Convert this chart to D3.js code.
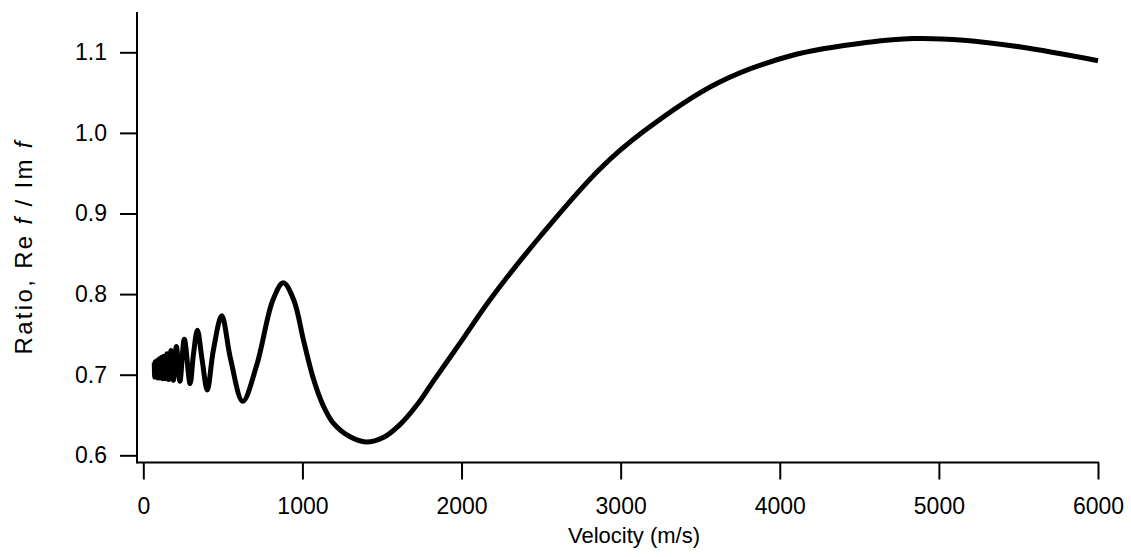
<!DOCTYPE html>
<html>
<head>
<meta charset="utf-8">
<script src="https://cdn.jsdelivr.net/npm/d3@7"></script>
<style>
  html, body { margin: 0; padding: 0; background: #fff; }
  svg text { font-family: "Liberation Sans", Arial, Helvetica, sans-serif; fill: #000; }
</style>
</head>
<body>
<svg id="chart" width="1131" height="557"></svg>
<script>
// ---- data ----
const velocity = [69, 71.4, 74, 76.8, 79.8, 83.1, 86.6, 90.4, 94.6, 99.2, 104, 109.8, 116, 122.7, 130,
  139, 149, 160.5, 174, 189, 208, 230, 258, 294, 315, 340, 370, 402, 440, 493, 548, 625, 713, 815,
  880, 945, 1010, 1069, 1130, 1194, 1300, 1400, 1508, 1613, 1718, 1823, 2000, 2179, 2500, 2868, 3145,
  3610, 4075, 4560, 4840, 5155, 5515, 6000];
const ratio = [0.715, 0.697, 0.716, 0.697, 0.7165, 0.697, 0.7175, 0.696, 0.7185, 0.696, 0.720, 0.696,
  0.7215, 0.695, 0.723, 0.695, 0.726, 0.694, 0.730, 0.693, 0.735, 0.692, 0.744, 0.689, 0.725, 0.755,
  0.718, 0.681, 0.730, 0.773, 0.720, 0.667, 0.712, 0.793, 0.814, 0.793, 0.740, 0.695, 0.662, 0.640,
  0.623, 0.6165, 0.622, 0.638, 0.662, 0.692, 0.742, 0.793, 0.873, 0.955, 1.002, 1.062, 1.096, 1.1125,
  1.117, 1.115, 1.1065, 1.0896];
const xTicks = [0, 1000, 2000, 3000, 4000, 5000, 6000];
const yTicks = [0.6, 0.7, 0.8, 0.9, 1.0, 1.1];
const xTitle = "Velocity (m/s)";

// ---- layout ----
const svg = d3.select("#chart");
const x = d3.scaleLinear().domain([0, 6000]).range([143.3, 1098]);
const y = d3.scaleLinear().domain([0.6, 1.1]).range([455.3, 52.3]);
const axisX = 137;      // y-axis line position
const axisY = 462.5;    // x-axis line position
const yTop = 12;
const tickFont = 23;

// axis lines
svg.append("line").attr("x1", axisX).attr("x2", axisX).attr("y1", yTop).attr("y2", axisY + 1)
  .attr("stroke", "#000").attr("stroke-width", 2);
svg.append("line").attr("x1", axisX).attr("x2", x(6000) + 1).attr("y1", axisY).attr("y2", axisY)
  .attr("stroke", "#000").attr("stroke-width", 2);

// x axis
const gx = svg.append("g").attr("transform", `translate(0,${axisY})`)
  .call(d3.axisBottom(x).tickValues(xTicks).tickFormat(d3.format("d")).tickSize(17).tickPadding(18));
gx.select(".domain").remove();
gx.selectAll(".tick line").attr("stroke", "#000").attr("stroke-width", 2);
gx.selectAll(".tick text").attr("font-size", tickFont).attr("font-family", null);

// y axis
const gy = svg.append("g").attr("transform", `translate(${axisX},0)`)
  .call(d3.axisLeft(y).tickValues(yTicks).tickFormat(d3.format(".1f")).tickSize(17).tickPadding(13));
gy.select(".domain").remove();
gy.selectAll(".tick line").attr("stroke", "#000").attr("stroke-width", 2);
gy.selectAll(".tick text").attr("font-size", tickFont).attr("font-family", null);

// titles
svg.append("text").attr("x", 634).attr("y", 543).attr("text-anchor", "middle")
  .attr("font-size", 22).text(xTitle);

const yl = svg.append("text").attr("transform", "translate(32,248) rotate(-90)")
  .attr("text-anchor", "middle").attr("font-size", 24)
  .attr("textLength", 213).attr("lengthAdjust", "spacing");
yl.append("tspan").text("Ratio, Re ");
yl.append("tspan").attr("font-style", "italic").text("f");
yl.append("tspan").text(" / Im ");
yl.append("tspan").attr("font-style", "italic").text("f");

// curve
const pts = velocity.map((v, i) => [v, ratio[i]]);
const line = d3.line().x(d => x(d[0])).y(d => y(d[1])).curve(d3.curveCatmullRom.alpha(0.5));
svg.append("path").datum(pts).attr("d", line).attr("fill", "none")
  .attr("stroke", "#000").attr("stroke-width", 5).attr("stroke-linejoin", "round").attr("stroke-linecap", "butt");
</script>
</body>
</html>
